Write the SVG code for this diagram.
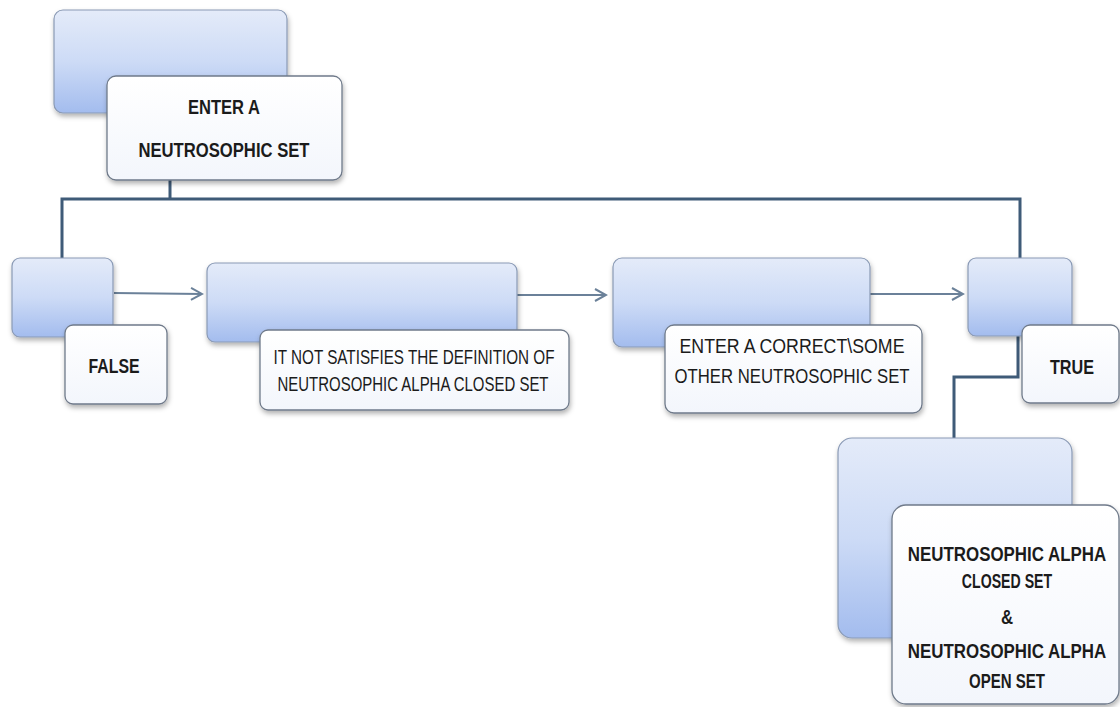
<svg xmlns="http://www.w3.org/2000/svg" width="1120" height="707" viewBox="0 0 1120 707">
<style>
.blue{fill:url(#bg);stroke:#8a9ab5;stroke-width:1.2}
.white{fill:url(#wg);stroke:#6f7a8a;stroke-width:1.3}
.t{font-family:"Liberation Sans",Arial,sans-serif;font-size:21px;fill:#1b1b1b;text-anchor:middle}
.b{font-weight:bold}
.tree{fill:none;stroke:#3f5b78;stroke-width:3}
.arr{fill:none;stroke:#6b8199;stroke-width:2}
</style>
<defs>
<linearGradient id="bg" x1="0" y1="0" x2="0" y2="1">
<stop offset="0" stop-color="#e4ebf9"/>
<stop offset="0.5" stop-color="#cddbf6"/>
<stop offset="1" stop-color="#a3bcee"/>
</linearGradient>
<linearGradient id="wg" x1="0" y1="0" x2="0" y2="1">
<stop offset="0" stop-color="#ffffff"/>
<stop offset="1" stop-color="#f3f6fc"/>
</linearGradient>
<filter id="sh" x="-10%" y="-10%" width="130%" height="130%">
<feDropShadow dx="1" dy="3" stdDeviation="2.5" flood-color="#000" flood-opacity="0.3"/>
</filter>
<marker id="ah" markerWidth="14" markerHeight="14" refX="12" refY="7" orient="auto" markerUnits="userSpaceOnUse">
<path d="M1,1 L12,7 L1,13" fill="none" stroke="#6b8199" stroke-width="2"/>
</marker>
</defs>
<rect width="1120" height="707" fill="#ffffff"/>

<g id="connectors">
<polyline class="tree" points="170,180 170,199"/>
<polyline class="tree" points="62,258 62,199 1020,199 1020,258"/>
<polyline class="tree" points="1018,336 1018,377 954,377 954,438"/>
<line class="arr" x1="114" y1="293" x2="202" y2="294" marker-end="url(#ah)"/>
<line class="arr" x1="517" y1="295" x2="606" y2="295" marker-end="url(#ah)"/>
<line class="arr" x1="870" y1="294" x2="963" y2="294" marker-end="url(#ah)"/>
</g>

<g id="node-start">
<rect class="blue" x="54" y="10" width="233" height="103" rx="9" filter="url(#sh)"/>
<rect class="white" x="107" y="76" width="235" height="104" rx="9" filter="url(#sh)"/>
<text class="t b" x="224" y="114" textLength="72" lengthAdjust="spacingAndGlyphs">ENTER A</text>
<text class="t b" x="224" y="157" textLength="171" lengthAdjust="spacingAndGlyphs">NEUTROSOPHIC SET</text>
</g>

<g id="node-false">
<rect class="blue" x="12" y="258" width="101" height="79" rx="8" filter="url(#sh)"/>
<rect class="white" x="65" y="325" width="102" height="79" rx="8" filter="url(#sh)"/>
<text class="t b" x="114" y="373" textLength="51" lengthAdjust="spacingAndGlyphs">FALSE</text>
</g>

<g id="node-not-satisfies">
<rect class="blue" x="207" y="263" width="310" height="79" rx="8" filter="url(#sh)"/>
<rect class="white" x="260" y="330" width="309" height="80" rx="8" filter="url(#sh)"/>
<text class="t" x="414" y="364" textLength="281" lengthAdjust="spacingAndGlyphs">IT NOT SATISFIES THE DEFINITION OF</text>
<text class="t" x="413" y="391" textLength="271" lengthAdjust="spacingAndGlyphs">NEUTROSOPHIC ALPHA CLOSED SET</text>
</g>

<g id="node-enter-correct">
<rect class="blue" x="613" y="258" width="257" height="89" rx="9" filter="url(#sh)"/>
<rect class="white" x="665" y="325" width="257" height="88" rx="9" filter="url(#sh)"/>
<text class="t" x="792" y="353" textLength="225" lengthAdjust="spacingAndGlyphs">ENTER A CORRECT\SOME</text>
<text class="t" x="792" y="383" textLength="235" lengthAdjust="spacingAndGlyphs">OTHER NEUTROSOPHIC SET</text>
</g>

<g id="node-true">
<rect class="blue" x="968" y="258" width="104" height="78" rx="8" filter="url(#sh)"/>
<rect class="white" x="1022" y="325" width="97" height="78" rx="8" filter="url(#sh)"/>
<text class="t b" x="1072" y="374" textLength="44" lengthAdjust="spacingAndGlyphs">TRUE</text>
</g>

<g id="node-result">
<rect class="blue" x="838" y="438" width="234" height="200" rx="14" filter="url(#sh)"/>
<rect class="white" x="892" y="505" width="227" height="199" rx="14" filter="url(#sh)"/>
<text class="t b" transform="translate(1007,561) scale(0.8,1)" textLength="248" lengthAdjust="spacingAndGlyphs">NEUTROSOPHIC ALPHA</text>
<text class="t b" transform="translate(1007,588) scale(0.8,1)" textLength="113" lengthAdjust="spacingAndGlyphs">CLOSED SET</text>
<text class="t b" transform="translate(1007,624) scale(0.8,1)">&amp;</text>
<text class="t b" transform="translate(1007,658) scale(0.8,1)" textLength="248" lengthAdjust="spacingAndGlyphs">NEUTROSOPHIC ALPHA</text>
<text class="t b" transform="translate(1007,688) scale(0.8,1)" textLength="95" lengthAdjust="spacingAndGlyphs">OPEN SET</text>
</g>
</svg>
